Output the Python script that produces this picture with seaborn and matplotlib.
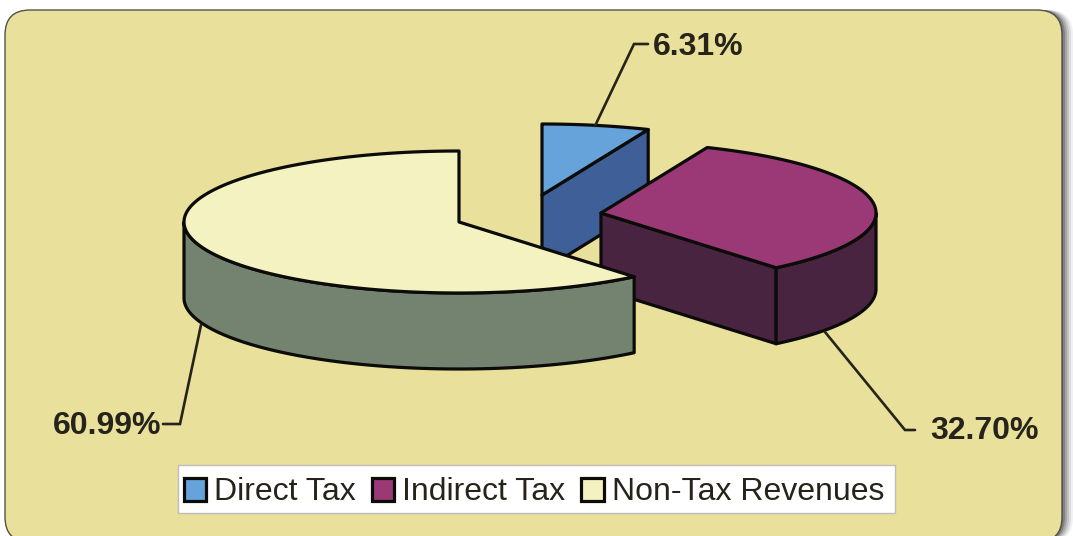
import numpy as np
import matplotlib
matplotlib.use("Agg")
import matplotlib.pyplot as plt
from matplotlib.patches import Polygon, FancyBboxPatch, Patch, Rectangle
import seaborn as sns

categories = ["Direct Tax", "Indirect Tax", "Non-Tax Revenues"]
shares = [6.31, 32.70, 60.99]
labels = ["6.31%", "32.70%", "60.99%"]
top_colors = ["#65A3DA", "#9B3977", "#F5F2C2"]
side_colors = ["#3F5F98", "#482440", "#748270"]

sns.set_theme(style="white")
plt.rcParams["font.family"] = ["Liberation Sans", "DejaVu Sans"]
INK = "#0b0b08"
TXT = "#26241a"

fig = plt.figure(figsize=(10.73, 5.36), dpi=100, facecolor="white")
ax = fig.add_axes([0, 0, 1, 1])
ax.set_xlim(0, 1073)
ax.set_ylim(536, 0)
ax.axis("off")

# panel + soft shadow
for off, g in zip([11, 9, 7, 5, 3, 1], ["#f0f0f0", "#dcdcdc", "#c2c2c2", "#a4a4a4", "#828282", "#5e5e5e"]):
    ax.add_patch(FancyBboxPatch((5 + 25, 10 + 25), 1057 - 50 + off, 532 - 50,
                                boxstyle="round,pad=25,rounding_size=25",
                                fc=g, ec="none", zorder=1))
ax.add_patch(FancyBboxPatch((5 + 25, 10 + 25), 1057 - 50, 532 - 50,
                            boxstyle="round,pad=25,rounding_size=25",
                            fc="#E8E09B", ec="#55534a", lw=1.0, zorder=2))

# pie geometry
RX, RY, DEPTH = 275, 71, 76
apexes = [(542, 195), (601, 213), (459, 222)]
edges = np.cumsum([0] + shares) / 100 * 2 * np.pi


def rim(c, a, b, n=120):
    t = np.linspace(a, b, n)
    return np.column_stack([c[0] + RX * np.sin(t), c[1] - RY * np.cos(t)])


def down(p):
    return np.asarray(p) + [0, DEPTH]


def draw(pts, color, z):
    ax.add_patch(Polygon(pts, closed=True, fc=color, ec=INK, lw=2.3,
                         joinstyle="round", zorder=z))


z = 3
for i, c in enumerate(apexes):
    a, b = edges[i], edges[i + 1]
    end = rim(c, b, b, 1)[0]
    # radial cut face toward the viewer (slices that end on the right half)
    if b < np.pi:
        draw([c, end, down(end), down(c)], side_colors[i], z)
        z += 1
    # outer wall: visible part of the rim lies between 90 and 270 degrees
    lo, hi = max(a, np.pi / 2), min(b, 3 * np.pi / 2)
    if hi > lo:
        arc = rim(c, lo, hi)
        draw(np.vstack([arc, down(arc)[::-1]]), side_colors[i], z)
        z += 1
    draw(np.vstack([[c], rim(c, a, b)]), top_colors[i], z)
    z += 1

# leader lines
LEAD = "#26241a"
for xs, ys in [((595, 634, 648), (126, 44, 44)),
               ((825, 905, 915), (332, 430, 430)),
               ((201, 180, 163), (325, 424, 424))]:
    ax.plot(xs, ys, color=LEAD, lw=1.9, solid_joinstyle="miter", zorder=z)

for lab, x, y in zip(labels, (653, 930, 53), (47, 431, 426)):
    ax.text(x, y, lab, fontsize=23, fontweight="bold", color=TXT,
            ha="left", va="center", zorder=z)

# legend: frame drawn separately so the entries can sit centred in it
ax.add_patch(Rectangle((178, 465), 717, 48, fc="white", ec="#bdbdbd", lw=1.0, zorder=z))
handles = [Patch(fc=col, ec=INK, lw=2.3) for col in top_colors]
leg = ax.legend(handles, categories, loc="center", ncol=3,
                bbox_to_anchor=(534 / 1073, 1 - 492.5 / 536),
                fontsize=23, frameon=False,
                handlelength=0.7, handleheight=0.7, handletextpad=0.25,
                columnspacing=0.5, borderpad=0, borderaxespad=0)
leg.set_zorder(z + 1)
for t in leg.get_texts():
    t.set_color(TXT)

fig.savefig("out.png", dpi=100, facecolor="white")
